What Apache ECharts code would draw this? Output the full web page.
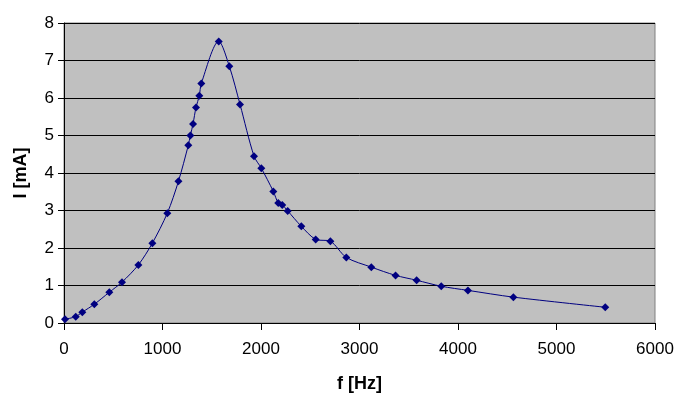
<!DOCTYPE html>
<html>
<head>
<meta charset="utf-8">
<script src="https://cdn.jsdelivr.net/npm/echarts@6/dist/echarts.min.js"></script>
<style>
html,body{margin:0;padding:0;background:#fff;}
#c{width:682px;height:405px;}
</style>
</head>
<body>
<div id="c"></div>
<script>
var freq = [10,119,186,308,460,589,755,897,1049,1162,1262,1283,1310,1340,1374,1394,1571,1678,1787,1929,2003,2125,2175,2216,2271,2409,2555,2704,2866,3120,3366,3580,3830,4101,4562,5495];
var current = [0.10,0.17,0.29,0.50,0.82,1.09,1.55,2.13,2.93,3.78,4.74,5.00,5.31,5.75,6.06,6.39,7.51,6.85,5.83,4.45,4.13,3.51,3.20,3.15,2.99,2.58,2.23,2.18,1.75,1.49,1.27,1.14,0.98,0.87,0.69,0.42];
var xTitle = 'f [Hz]';
var yTitle = 'I [mA]';

var pts = freq.map(function(f, i){ return [f, current[i]]; });
var font = 'Liberation Sans, Arial, sans-serif';
var chart = echarts.init(document.getElementById('c'));
chart.setOption({
  backgroundColor: '#ffffff',
  animation: false,
  grid: {left: 64, right: 27, top: 23, bottom: 82, show: true, backgroundColor: '#c0c0c0', borderColor: '#808080', borderWidth: 1},
  xAxis: {
    type: 'value', min: 0, max: 6000, interval: 1000,
    name: xTitle, nameLocation: 'middle', nameGap: 52,
    nameTextStyle: {fontFamily: font, fontSize: 18, fontWeight: 'bold', color: '#000'},
    axisLine: {show: true, onZero: false, lineStyle: {color: '#000', width: 1}},
    axisTick: {show: true, inside: false, length: 7, lineStyle: {color: '#000'}},
    axisLabel: {fontFamily: font, fontSize: 17, color: '#000', margin: 18, formatter: function(v){ return String(v); }},
    splitLine: {show: false}
  },
  yAxis: {
    type: 'value', min: 0, max: 8, interval: 1,
    name: yTitle, nameLocation: 'middle', nameGap: 34, nameRotate: 90,
    nameTextStyle: {fontFamily: font, fontSize: 18, fontWeight: 'bold', color: '#000'},
    axisLine: {show: true, onZero: false, lineStyle: {color: '#000', width: 1}},
    axisTick: {show: true, inside: false, length: 6, lineStyle: {color: '#000'}},
    axisLabel: {fontFamily: font, fontSize: 17, color: '#000', margin: 10},
    splitLine: {show: true, lineStyle: {color: '#000', width: 1}}
  },
  series: [{
    type: 'line',
    data: pts,
    smooth: 0.3,
    symbol: 'diamond',
    symbolSize: 8,
    itemStyle: {color: '#000080'},
    lineStyle: {color: '#000080', width: 1}
  }]
});
</script>
</body>
</html>
